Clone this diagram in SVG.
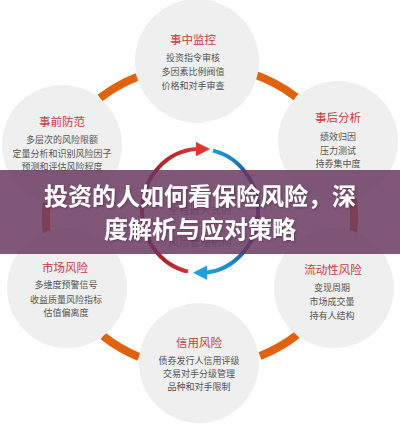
<svg xmlns="http://www.w3.org/2000/svg" width="400" height="424" viewBox="0 0 400 424">
<defs>
<style>
.node{fill:#efefef}
.ttl{font-family:"Noto Sans CJK SC","Noto Sans",sans-serif;font-size:11.5px;fill:#c83a3c;text-anchor:middle}
.body{font-family:"Noto Sans CJK SC","Noto Sans",sans-serif;font-size:9px;fill:#555;text-anchor:middle}
.conn{fill:none;stroke:#e0620f;stroke-width:8}
.ctr{font-family:"Noto Sans CJK SC","Noto Sans",sans-serif;font-size:10.5px;fill:#8a8a8a;text-anchor:middle}
.banner{font-family:"Noto Sans CJK SC","Noto Sans",sans-serif;font-size:24px;font-weight:bold;fill:#fff;text-anchor:middle;filter:url(#shadow)}
</style>
<filter id="shadow" x="-10%" y="-30%" width="120%" height="160%">
<feDropShadow dx="1" dy="1" stdDeviation="1" flood-color="#3a1a33" flood-opacity="0.5"/>
</filter>
<linearGradient id="gRed" gradientUnits="userSpaceOnUse" x1="200" y1="0" x2="142" y2="0">
<stop offset="0" stop-color="#de382e"/><stop offset="1" stop-color="#951d2c"/>
</linearGradient>
<linearGradient id="gBlue" gradientUnits="userSpaceOnUse" x1="205" y1="0" x2="258" y2="0">
<stop offset="0" stop-color="#1fa0dc"/><stop offset="0.5" stop-color="#1e86cc"/><stop offset="1" stop-color="#2b3572"/>
</linearGradient>
</defs>
<rect width="400" height="424" fill="#fff"/>
<g id="connectors">
<path class="conn" d="M100,98 A153,153 0 0 1 137,77"/>
<path class="conn" d="M253,74 A153,153 0 0 1 296,97"/>
<path class="conn" d="M297,335 A153,153 0 0 1 260,356"/>
<path class="conn" d="M139,357 A153,153 0 0 1 103,336"/>
<path class="conn" d="M47.5,240 A153,153 0 0 1 47.5,195"/>
<path class="conn" d="M352.5,195 A153,153 0 0 1 352.5,240"/>
</g>
<g id="node-top">
<circle class="node" cx="197" cy="61" r="62"/>
<text class="ttl" x="193" y="44">事中监控</text>
<text class="body" x="193" y="61">投资指令审核</text>
<text class="body" x="193" y="75">多因素比例阀值</text>
<text class="body" x="193" y="89">价格和对手审查</text>
</g>
<g id="node-ul">
<circle class="node" cx="62" cy="145" r="60"/>
<text class="ttl" x="62" y="126">事前防范</text>
<text class="body" x="62" y="143">多层次的风险限额</text>
<text class="body" x="62" y="157">定量分析和识别风险因子</text>
<text class="body" x="62" y="170">预测和评估风险程度</text>
</g>
<g id="node-ur">
<circle class="node" cx="338" cy="141" r="60"/>
<text class="ttl" x="338" y="122">事后分析</text>
<text class="body" x="338" y="140">绩效归因</text>
<text class="body" x="338" y="154">压力测试</text>
<text class="body" x="338" y="167">持券集中度</text>
</g>
<g id="node-ll">
<circle class="node" cx="67" cy="288" r="60"/>
<text class="ttl" x="65" y="272">市场风险</text>
<text class="body" x="66" y="288">多维度预警信号</text>
<text class="body" x="66" y="303">收益质量风险指标</text>
<text class="body" x="66" y="316">估值偏离度</text>
</g>
<g id="node-lr">
<circle class="node" cx="334" cy="288" r="60"/>
<text class="ttl" x="333" y="274">流动性风险</text>
<text class="body" x="332" y="291">变现周期</text>
<text class="body" x="332" y="305">市场成交量</text>
<text class="body" x="332" y="319">持有人结构</text>
</g>
<g id="node-bottom">
<circle class="node" cx="199" cy="363" r="60"/>
<text class="ttl" x="199" y="347">信用风险</text>
<text class="body" x="199" y="364">债券发行人信用评级</text>
<text class="body" x="199" y="377">交易对手分级管理</text>
<text class="body" x="199" y="390">品种和对手限制</text>
</g>
<g id="node-center">
<path d="M188,271.6 A58,62 0 0 1 196,149.1" fill="none" stroke="url(#gRed)" stroke-width="4"/>
<polygon points="196,142 210,149.1 196,156.2" fill="#de382e"/>
<path d="M213,150.6 A58,62 0 0 1 206,272.7" fill="none" stroke="url(#gBlue)" stroke-width="4"/>
<polygon points="207,265.6 193,272.7 207,279.8" fill="#1fa0dc"/>
<text class="ctr" x="200" y="214">全程嵌入式的</text>
<text class="ctr" x="200" y="246">风险管理机构</text>
</g>
<g id="banner">
<rect x="0" y="170" width="400" height="84" fill="#6a3a62" opacity="0.85"/>
<text class="banner" x="200" y="205">投资的人如何看保险风险，深</text>
<text class="banner" x="200" y="238">度解析与应对策略</text>
</g>
</svg>
